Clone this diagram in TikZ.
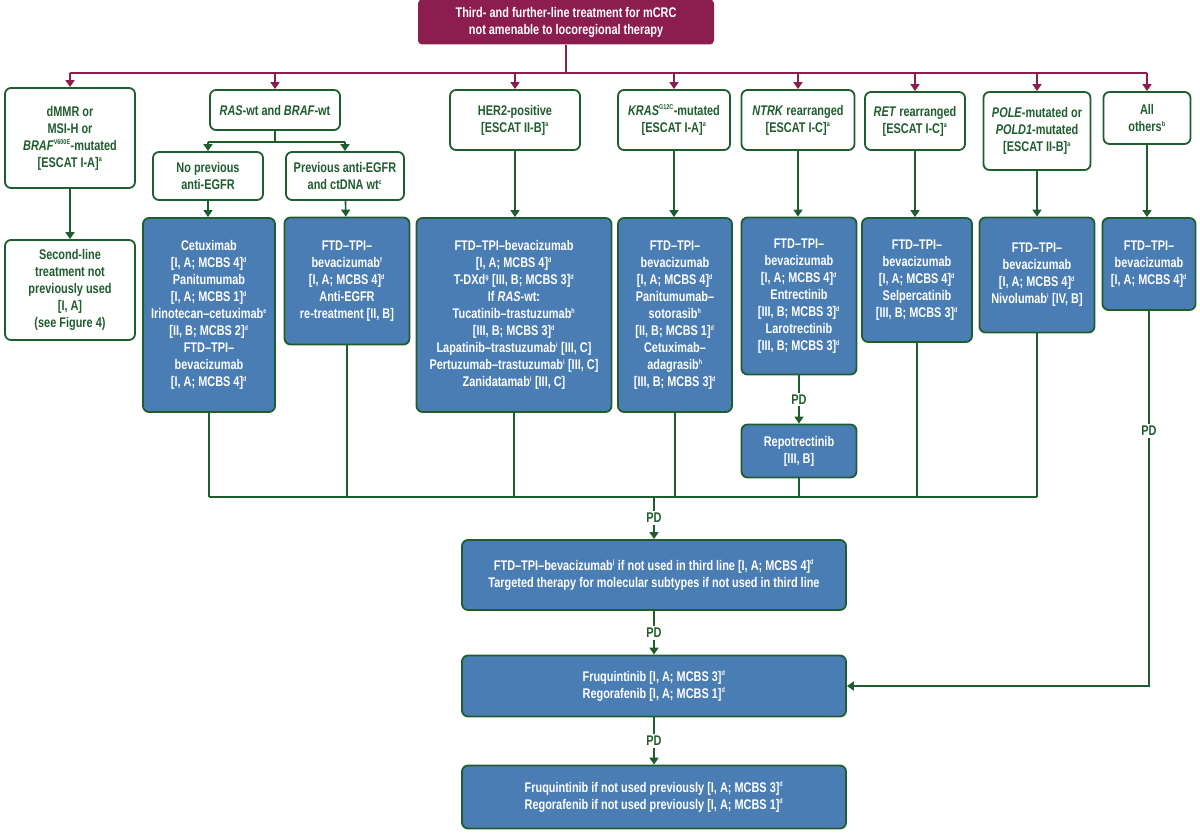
\documentclass[tikz,border=0pt]{standalone}
\usepackage{fontspec}
\setmainfont{Liberation Sans}[FakeStretch=0.78]
\usepackage{tikz}
\usetikzlibrary{arrows.meta,positioning}
\definecolor{dgreen}{HTML}{1F5C2E}
\definecolor{maroon}{HTML}{8C1D4F}
\definecolor{tblue}{HTML}{4A7DB3}
\newcommand{\sps}[1]{\textsuperscript{\scriptsize#1}}
\tikzset{
	x=1pt,y=-1pt,
	sel/.style={rectangle,rounded corners=6pt,draw=dgreen,line width=1.8pt,fill=white,text=dgreen,align=center,inner sep=2pt,font=\bfseries\fontsize{14}{17}\selectfont},
	trt/.style={sel,fill=tblue,text=white},
	head/.style={rectangle,rounded corners=4pt,fill=maroon,text=white,align=center,font=\bfseries\fontsize{14}{17}\selectfont},
	pre/.style={-{Triangle[width=9pt,length=7pt]},line width=1.6pt,draw=dgreen},
	mpre/.style={-{Triangle[width=9pt,length=7pt]},line width=1.6pt,draw=maroon},
	line/.style={line width=1.6pt,draw=dgreen},
	pd/.style={fill=white,text=dgreen,inner sep=2pt,font=\bfseries\fontsize{14}{17}\selectfont}
}
\begin{document}
\begin{tikzpicture}
\useasboundingbox (0,0) rectangle (1200,834);
% header and first row
\node[head,minimum width=296,minimum height=45] (Top) at (566,22) {Third- and further-line treatment for mCRC\\not amenable to locoregional therapy};
\node[sel,minimum width=130,minimum height=100] (Dmmr) at (70,138) {dMMR or\\MSI-H or\\\textit{BRAF}\sps{V600E}-mutated\\{[ESCAT I-A]}\sps{a}};
\node[sel,minimum width=130,minimum height=40] (Ras) at (275,110) {\textit{RAS}-wt and \textit{BRAF}-wt};
\node[sel,minimum width=110,minimum height=48] (NoPrev) at (208,176) {No previous\\anti-EGFR};
\node[sel,minimum width=118,minimum height=48] (Prev) at (345,176) {Previous anti-EGFR\\and ctDNA wt\sps{c}};
\node[sel,minimum width=130,minimum height=60] (Her) at (515,120) {HER2-positive\\{[ESCAT II-B]}\sps{a}};
\node[sel,minimum width=112,minimum height=60] (Kras) at (674,120) {\textit{KRAS}\sps{G12C}-mutated\\{[ESCAT I-A]}\sps{a}};
\node[sel,minimum width=113,minimum height=60] (Ntrk) at (798,120) {\textit{NTRK} rearranged\\{[ESCAT I-C]}\sps{a}};
\node[sel,minimum width=100,minimum height=58] (Ret) at (915,121) {\textit{RET} rearranged\\{[ESCAT I-C]}\sps{a}};
\node[sel,minimum width=107,minimum height=78] (Pole) at (1037,131) {\textit{POLE}-mutated or\\\textit{POLD1}-mutated\\{[ESCAT II-B]}\sps{a}};
\node[sel,minimum width=87,minimum height=52] (Other) at (1147,118) {All\\others\sps{b}};
% treatment row
\node[sel,minimum width=130,minimum height=100] (Second) at (70,290) {Second-line\\treatment not\\previously used\\{[I, A]}\\(see Figure 4)};
\node[trt,minimum width=132,minimum height=194] (Cetux) at (209,315) {Cetuximab\\{[I, A; MCBS 4]}\sps{d}\\Panitumumab\\{[I, A; MCBS 1]}\sps{d}\\Irinotecan--cetuximab\sps{e}\\{[II, B; MCBS 2]}\sps{d}\\FTD--TPI--\\bevacizumab\\{[I, A; MCBS 4]}\sps{d}};
\node[trt,minimum width=125,minimum height=127] (FtdPrev) at (347,281) {FTD--TPI--\\bevacizumab\sps{f}\\{[I, A; MCBS 4]}\sps{d}\\Anti-EGFR\\re-treatment [II, B]};
\node[trt,minimum width=195,minimum height=194] (HerT) at (514,315) {FTD--TPI--bevacizumab\\{[I, A; MCBS 4]}\sps{d}\\T-DXd\sps{g} [III, B; MCBS 3]\sps{d}\\If \textit{RAS}-wt:\\Tucatinib--trastuzumab\sps{h}\\{[III, B; MCBS 3]}\sps{d}\\Lapatinib--trastuzumab\sps{i} [III, C]\\Pertuzumab--trastuzumab\sps{i} [III, C]\\Zanidatamab\sps{i} [III, C]};
\node[trt,minimum width=114,minimum height=194] (KrasT) at (675,315) {FTD--TPI--\\bevacizumab\\{[I, A; MCBS 4]}\sps{d}\\Panitumumab--\\sotorasib\sps{h}\\{[II, B; MCBS 1]}\sps{d}\\Cetuximab--\\adagrasib\sps{h}\\{[III, B; MCBS 3]}\sps{d}};
\node[trt,minimum width=115,minimum height=157] (NtrkT) at (799,296) {FTD--TPI--\\bevacizumab\\{[I, A; MCBS 4]}\sps{d}\\Entrectinib\\{[III, B; MCBS 3]}\sps{d}\\Larotrectinib\\{[III, B; MCBS 3]}\sps{d}};
\node[trt,minimum width=115,minimum height=53] (Repo) at (799,451) {Repotrectinib\\{[III, B]}};
\node[trt,minimum width=110,minimum height=124] (RetT) at (917,280) {FTD--TPI--\\bevacizumab\\{[I, A; MCBS 4]}\sps{d}\\Selpercatinib\\{[III, B; MCBS 3]}\sps{d}};
\node[trt,minimum width=115,minimum height=115] (PoleT) at (1037,275) {FTD--TPI--\\bevacizumab\\{[I, A; MCBS 4]}\sps{d}\\Nivolumab\sps{i} [IV, B]};
\node[trt,minimum width=93,minimum height=92] (OtherT) at (1149,264) {FTD--TPI--\\bevacizumab\\{[I, A; MCBS 4]}\sps{d}};
% later lines
\node[trt,minimum width=384,minimum height=70] (Fourth) at (654,575) {FTD--TPI--bevacizumab\sps{j} if not used in third line [I, A; MCBS 4]\sps{d}\\Targeted therapy for molecular subtypes if not used in third line};
\node[trt,minimum width=384,minimum height=61] (Fruq) at (654,686) {Fruquintinib [I, A; MCBS 3]\sps{d}\\Regorafenib [I, A; MCBS 1]\sps{d}};
\node[trt,minimum width=384,minimum height=63] (Last) at (654,797) {Fruquintinib if not used previously [I, A; MCBS 3]\sps{d}\\Regorafenib if not used previously [I, A; MCBS 1]\sps{d}};
% maroon fan-out
\coordinate (Bus) at (566,73);
\draw[line width=1.6pt,maroon] (Top.south) -- (Bus);
\draw[line width=1.6pt,maroon] (Dmmr.north |- Bus) -- (Other.north |- Bus);
\foreach \n in {Dmmr,Ras,Her,Kras,Ntrk,Ret,Pole,Other}
  \draw[mpre] (\n.north |- Bus) -- (\n.north);
% green arrows
\coordinate (Split) at (275,142);
\draw[line] (Ras.south) -- (Split);
\draw[line] (NoPrev.north |- Split) -- (Prev.north |- Split);
\draw[pre] (NoPrev.north |- Split) -- (NoPrev.north);
\draw[pre] (Prev.north |- Split) -- (Prev.north);
\draw[pre] (Dmmr) -- (Second);
\draw[pre] (NoPrev.south) -- (NoPrev.south |- Cetux.north);
\draw[pre] (Prev) -- (FtdPrev);
\draw[pre] (Her) -- (Her |- HerT.north);
\draw[pre] (Kras) -- (Kras |- KrasT.north);
\draw[pre] (Ntrk) -- (Ntrk |- NtrkT.north);
\draw[pre] (Ret) -- (Ret |- RetT.north);
\draw[pre] (Pole) -- (Pole |- PoleT.north);
\draw[pre] (Other) -- (Other |- OtherT.north);
\draw[pre] (NtrkT) -- node[pd] {PD} (Repo);
% collecting line
\coordinate (Join) at (654,497);
\draw[line] (Cetux.south |- Join) -- (PoleT.south |- Join);
\foreach \n in {Cetux,FtdPrev,HerT,KrasT,Repo,RetT,PoleT}
  \draw[line] (\n.south) -- (\n.south |- Join);
\draw[pre] (Join) -- node[pd] {PD} (Fourth);
\draw[pre] (Fourth) -- node[pd] {PD} (Fruq);
\draw[pre] (Fruq) -- node[pd] {PD} (Last);
\draw[pre] (OtherT.south) -- node[pd,pos=0.32] {PD} (OtherT.south |- Fruq.east) -- (Fruq.east);
\end{tikzpicture}
\end{document}
